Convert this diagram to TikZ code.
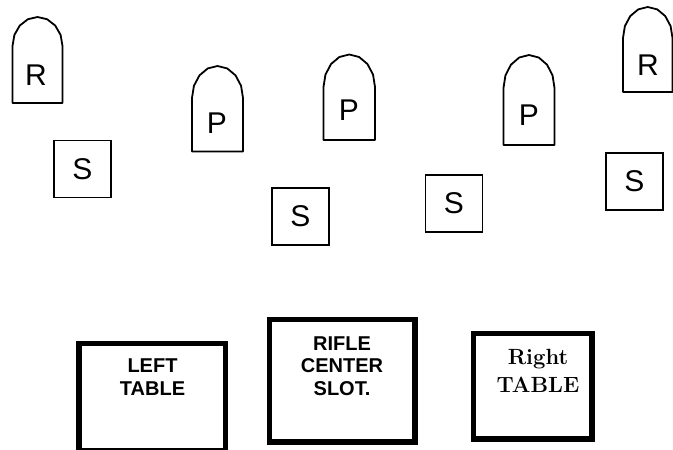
\documentclass[tikz,border=0pt]{standalone}
\usepackage{fontspec}
\newfontfamily\arialfont{Liberation Sans}
\tikzset{
  shapeline/.style={line width=1.8pt, line join=round},
  seat/.style={draw, line width=1.8pt, minimum width=57pt, minimum height=57pt, inner sep=0pt, font=\arialfont\fontsize{30}{32}\selectfont},
  letter/.style={anchor=base, inner sep=0pt, font=\arialfont\fontsize{30}{32}\selectfont},
  tablebox/.style={line width=5.5pt},
  tabletext/.style={anchor=north, inner sep=0pt, align=center, font=\arialfont\bfseries\fontsize{20}{22.5}\selectfont},
  tabletextserif/.style={anchor=north, inner sep=0pt, align=center, font=\fontseries{bx}\fontsize{22}{28}\selectfont}
}
\newcommand\tombstone[5]{% left right top straight bottom
  \draw[shapeline] (#1,#5) -- (#1,#4) -- plot[domain=180:360,samples=9] ({(#1+#2)/2+(#2-#1)/2*cos(\x)},{#4+(#4-#3)*sin(\x)}) -- (#2,#5) -- cycle;}
\begin{document}
\begin{tikzpicture}[x=1pt,y=-1pt]
\useasboundingbox (0,0) rectangle (673,450);
% tombstones R and P
\tombstone{12.5}{62.5}{17}{46}{103}
\node[letter] (r1) at (36,85) {R};
\tombstone{623}{672.5}{7}{38}{92}
\node[letter] (r2) at (648,75) {R};
\tombstone{192}{243}{66}{98}{151.5}
\node[letter] (p1) at (217,133) {P};
\tombstone{323.5}{375}{54.5}{87}{140}
\node[letter] (p2) at (349,120) {P};
\tombstone{503.5}{554.5}{55}{88}{145}
\node[letter] (p3) at (529,125) {P};
% S boxes
\node[seat] (s1) at (82.5,169) {S};
\node[seat] (s2) at (300.5,216.5) {S};
\node[seat] (s3) at (454,203.5) {S};
\node[seat] (s4) at (634.5,181.5) {S};
% tables
\draw[tablebox] (78.75,343.5) rectangle (225.5,451);
\node[tabletext] (lt) at (152.5,359) {LEFT\\TABLE};
\draw[tablebox] (269.5,319.5) rectangle (415.2,442);
\node[tabletext] (ct) at (342,336.5) {RIFLE\\CENTER\\SLOT.};
\draw[tablebox] (473.5,333.5) rectangle (592.2,439);
\node[tabletextserif] (rt) at (538,349) {Right\\TABLE};
\end{tikzpicture}
\end{document}
